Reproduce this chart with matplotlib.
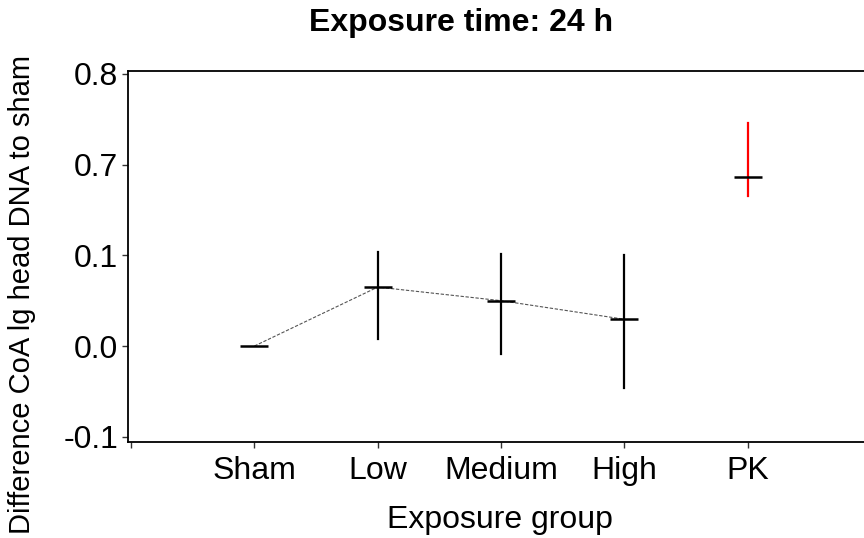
import numpy as np
import matplotlib
matplotlib.use("Agg")
import matplotlib.pyplot as plt

plt.rcParams["font.family"] = ["Liberation Sans", "DejaVu Sans"]

groups = ["Sham", "Low", "Medium", "High", "PK"]
means = [0.0, 0.065, 0.050, 0.0295, 0.618]
lower = [0.0, 0.0077, -0.0088, -0.0467, 0.494]
upper = [0.0, 0.120, 0.109, 0.102, 0.746]
bar_colors = ["black", "black", "black", "black", "red"]
ytick_vals = [-0.1, 0.0, 0.1, 0.7, 0.8]

# broken y axis: equal spacing for -0.1..0.1, 0.1..0.7, 0.7..0.8
val_knots = [-1.0, 0.1, 0.7, 1.0]
unit_knots = [-10.0, 1.0, 2.0, 5.0]


def forward(v):
    return np.interp(v, val_knots, unit_knots)


def inverse(u):
    return np.interp(u, unit_knots, val_knots)


fig = plt.figure(figsize=(8.64, 5.38), dpi=100)
ax = fig.add_axes([128 / 864, 1 - 441.7 / 538, 0.86, (441.7 - 70.7) / 538])
ax.set_yscale("function", functions=(forward, inverse))

x = np.arange(1, len(groups) + 1)

# connecting line for the exposed groups (not PK)
ax.plot(x[:4], means[:4], color="#555555", lw=0.8, ls=(0, (3, 1.5)), zorder=1)

for xi, m, lo, hi, c in zip(x, means, lower, upper, bar_colors):
    if hi > lo:
        ax.plot([xi, xi], [lo, hi], color=c, lw=1.6, zorder=2)
    ax.plot([xi], [m], marker="_", ms=20, mew=1.8, color="black", zorder=3)

ax.set_xlim(-0.025, 6.0)
ax.set_ylim(-0.1055, 0.8036)
ax.set_xticks(np.arange(0, len(groups) + 1))
ax.set_xticklabels([""] + groups)
ax.set_yticks(ytick_vals)
ax.set_yticklabels([f"{v:.1f}" for v in ytick_vals])
ax.yaxis.set_minor_locator(plt.NullLocator())

ax.tick_params(axis="both", direction="out", length=4, width=1, labelsize=23, color="#333333")
ax.tick_params(axis="x", pad=6)
ax.tick_params(axis="y", pad=3)
for s in ax.spines.values():
    s.set_linewidth(1.3)
ax.spines["right"].set_visible(False)

ax.set_xlabel("Exposure group", fontsize=23, labelpad=14)
fig.text(22 / 864, 1 - 294 / 538, "Difference CoA lg head DNA to sham",
         rotation=90, fontsize=21, ha="center", va="center")
fig.text(461.5 / 864, 1 - 23 / 538, "Exposure time: 24 h",
         fontsize=23, fontweight="bold", ha="center", va="center")

fig.savefig("out.png", dpi=100)
